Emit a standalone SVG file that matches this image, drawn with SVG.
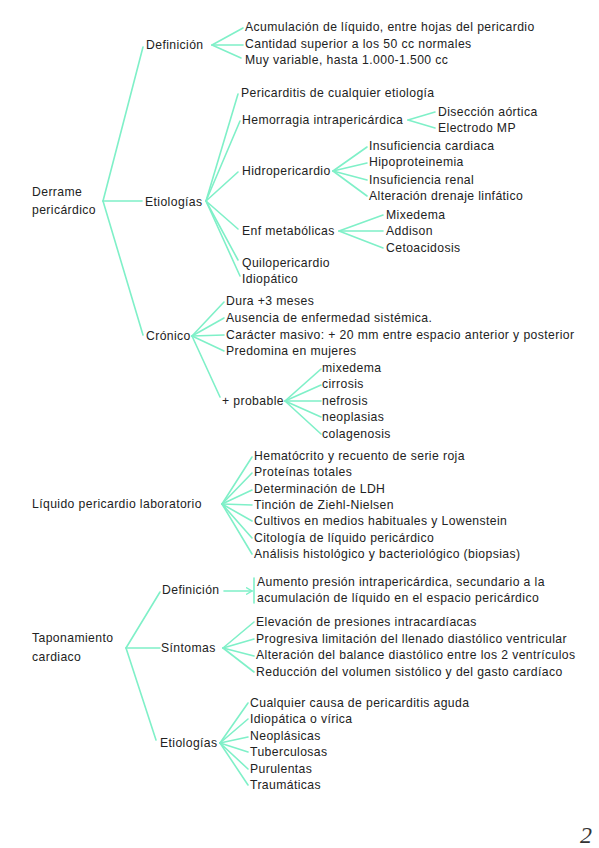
<svg xmlns="http://www.w3.org/2000/svg" width="599" height="848" viewBox="0 0 599 848">
<style>
text{font-family:"Liberation Sans","DejaVu Sans",sans-serif;font-size:12.2px;letter-spacing:0.4px;fill:#222}
.c line,.c path{stroke:#7ff0c8;stroke-width:1.6;fill:none;stroke-linecap:round}
.pg{font-size:24px;font-family:"Liberation Serif",serif;font-style:italic;fill:#333;letter-spacing:0}
</style>
<defs>
<marker id="ah" markerWidth="8" markerHeight="8" refX="6" refY="4" orient="auto" markerUnits="userSpaceOnUse">
<path d="M0,0.5 L6,4 L0,7.5" fill="none" stroke="#7ff0c8" stroke-width="1.4"/>
</marker>
</defs>
<rect width="599" height="848" fill="#fff"/>
<g class="c" id="connectors">
<line x1="103" y1="201" x2="143" y2="47"/>
<line x1="103" y1="201" x2="142" y2="201"/>
<line x1="103" y1="201" x2="143" y2="335"/>
<line x1="212" y1="45" x2="243" y2="28"/>
<line x1="212" y1="45" x2="243" y2="45"/>
<line x1="212" y1="45" x2="241" y2="58"/>
<line x1="206" y1="201" x2="238" y2="94"/>
<line x1="206" y1="201" x2="240" y2="121"/>
<line x1="206" y1="201" x2="238" y2="172"/>
<line x1="206" y1="201" x2="238" y2="229"/>
<line x1="206" y1="201" x2="238" y2="260"/>
<line x1="206" y1="201" x2="240" y2="276"/>
<line x1="408" y1="120" x2="435" y2="112"/>
<line x1="408" y1="120" x2="435" y2="128"/>
<line x1="333" y1="171" x2="367" y2="147"/>
<line x1="333" y1="171" x2="367" y2="163"/>
<line x1="333" y1="171" x2="367" y2="180"/>
<line x1="333" y1="171" x2="367" y2="196"/>
<line x1="339" y1="231" x2="383" y2="215"/>
<line x1="339" y1="231" x2="383" y2="231"/>
<line x1="339" y1="231" x2="383" y2="248"/>
<line x1="192" y1="336" x2="224" y2="302"/>
<line x1="192" y1="336" x2="224" y2="318"/>
<line x1="192" y1="336" x2="224" y2="335"/>
<line x1="192" y1="336" x2="224" y2="351"/>
<line x1="192" y1="336" x2="220" y2="397"/>
<line x1="285" y1="401" x2="321" y2="369"/>
<line x1="285" y1="401" x2="321" y2="385"/>
<line x1="285" y1="401" x2="321" y2="401"/>
<line x1="285" y1="401" x2="321" y2="417"/>
<line x1="285" y1="401" x2="321" y2="434"/>
<line x1="222" y1="504" x2="252" y2="457"/>
<line x1="222" y1="504" x2="252" y2="473"/>
<line x1="222" y1="504" x2="252" y2="490"/>
<line x1="222" y1="504" x2="252" y2="505"/>
<line x1="222" y1="504" x2="252" y2="521"/>
<line x1="222" y1="504" x2="252" y2="538"/>
<line x1="222" y1="504" x2="252" y2="554"/>
<line x1="126" y1="648" x2="160" y2="592"/>
<line x1="126" y1="648" x2="160" y2="648"/>
<line x1="126" y1="648" x2="156" y2="740"/>
<line x1="224" y1="591" x2="252" y2="591" marker-end="url(#ah)"/>
<line x1="254" y1="578" x2="254" y2="603"/>
<line x1="223" y1="648" x2="254" y2="622"/>
<line x1="223" y1="648" x2="254" y2="639"/>
<line x1="223" y1="648" x2="254" y2="656"/>
<line x1="223" y1="648" x2="254" y2="672"/>
<line x1="220" y1="743" x2="248" y2="703"/>
<line x1="220" y1="743" x2="248" y2="719"/>
<line x1="220" y1="743" x2="248" y2="737"/>
<line x1="220" y1="743" x2="248" y2="752"/>
<line x1="220" y1="743" x2="248" y2="769"/>
<line x1="220" y1="743" x2="248" y2="785"/>
</g>
<g id="derrame"><text x="32" y="196">Derrame</text><text x="32" y="214">pericárdico</text></g>
<g id="definicion1"><text x="146" y="49">Definición</text></g>
<g id="def1-items">
<text x="245" y="31">Acumulación de líquido, entre hojas del pericardio</text>
<text x="245" y="48">Cantidad superior a los 50 cc normales</text>
<text x="245" y="64">Muy variable, hasta 1.000-1.500 cc</text>
</g>
<g id="etiologias1"><text x="145" y="206">Etiologías</text></g>
<g id="pericarditis"><text x="241" y="97">Pericarditis de cualquier etiología</text></g>
<g id="hemorragia"><text x="242" y="124">Hemorragia intrapericárdica</text></g>
<g id="hemorragia-items"><text x="438" y="116">Disección aórtica</text><text x="438" y="132">Electrodo MP</text></g>
<g id="hidropericardio"><text x="242" y="175">Hidropericardio</text></g>
<g id="hidro-items">
<text x="369" y="150">Insuficiencia cardiaca</text>
<text x="369" y="166">Hipoproteinemia</text>
<text x="369" y="184">Insuficiencia renal</text>
<text x="369" y="200">Alteración drenaje linfático</text>
</g>
<g id="enfmet"><text x="242" y="235">Enf metabólicas</text></g>
<g id="enfmet-items">
<text x="386" y="219">Mixedema</text>
<text x="386" y="235">Addison</text>
<text x="386" y="252">Cetoacidosis</text>
</g>
<g id="quilo"><text x="242" y="267">Quilopericardio</text></g>
<g id="idiopatico"><text x="242" y="283">Idiopático</text></g>
<g id="cronico"><text x="146" y="340">Crónico</text></g>
<g id="cronico-items">
<text x="226" y="305">Dura +3 meses</text>
<text x="226" y="322">Ausencia de enfermedad sistémica.</text>
<text x="226" y="339">Carácter masivo: + 20 mm entre espacio anterior y posterior</text>
<text x="226" y="355">Predomina en mujeres</text>
</g>
<g id="probable"><text x="222" y="405">+ probable</text></g>
<g id="probable-items">
<text x="322" y="372">mixedema</text>
<text x="322" y="388">cirrosis</text>
<text x="322" y="405">nefrosis</text>
<text x="322" y="421">neoplasias</text>
<text x="322" y="438">colagenosis</text>
</g>
<g id="liquido"><text x="32" y="508">Líquido pericardio laboratorio</text></g>
<g id="liquido-items">
<text x="254" y="460">Hematócrito y recuento de serie roja</text>
<text x="254" y="476">Proteínas totales</text>
<text x="254" y="493">Determinación de LDH</text>
<text x="254" y="509">Tinción de Ziehl-Nielsen</text>
<text x="254" y="525">Cultivos en medios habituales y Lowenstein</text>
<text x="254" y="542">Citología de líquido pericárdico</text>
<text x="254" y="558">Análisis histológico y bacteriológico (biopsias)</text>
</g>
<g id="taponamiento"><text x="32" y="642">Taponamiento</text><text x="32" y="661">cardiaco</text></g>
<g id="definicion2"><text x="162" y="594">Definición</text></g>
<g id="def2-items">
<text x="257" y="586">Aumento presión intrapericárdica, secundario a la</text>
<text x="257" y="602">acumulación de líquido en el espacio pericárdico</text>
</g>
<g id="sintomas"><text x="161" y="652">Síntomas</text></g>
<g id="sintomas-items">
<text x="256" y="626">Elevación de presiones intracardíacas</text>
<text x="256" y="643">Progresiva limitación del llenado diastólico ventricular</text>
<text x="256" y="659">Alteración del balance diastólico entre los 2 ventrículos</text>
<text x="256" y="676">Reducción del volumen sistólico y del gasto cardíaco</text>
</g>
<g id="etiologias2"><text x="160" y="747">Etiologías</text></g>
<g id="etio2-items">
<text x="250" y="707">Cualquier causa de pericarditis aguda</text>
<text x="250" y="723">Idiopática o vírica</text>
<text x="250" y="740">Neoplásicas</text>
<text x="250" y="756">Tuberculosas</text>
<text x="250" y="773">Purulentas</text>
<text x="250" y="789">Traumáticas</text>
</g>
<text class="pg" x="580" y="843">2</text>
</svg>
